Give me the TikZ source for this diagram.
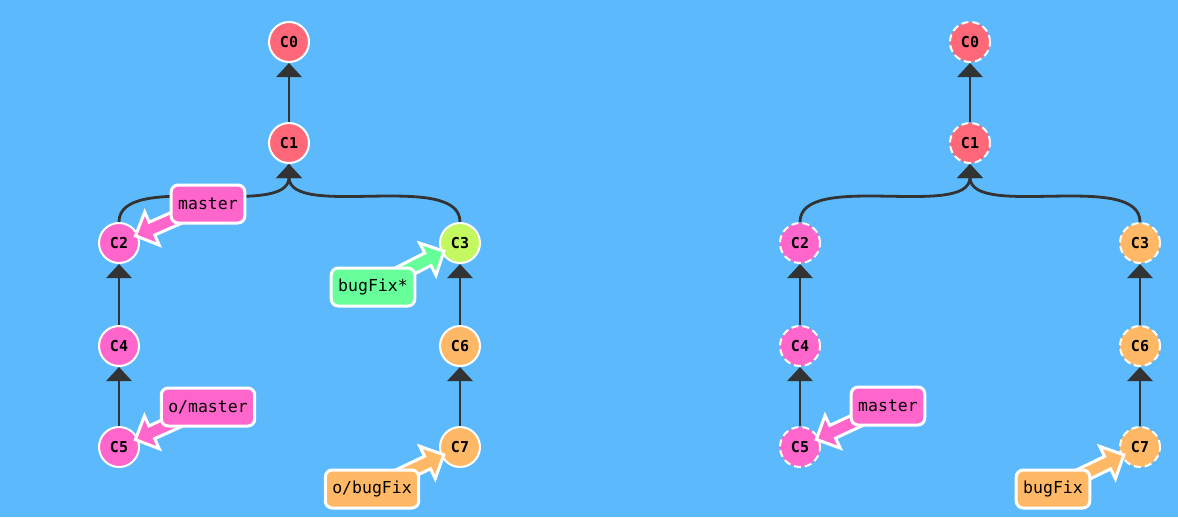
\documentclass[tikz,border=0pt]{standalone}
\usepackage{fontspec}
\setmonofont{DejaVu Sans Mono}
\usetikzlibrary{calc,arrows.meta}

\definecolor{bg}{HTML}{5CBAFC}
\definecolor{edgegray}{HTML}{333333}
\definecolor{cred}{HTML}{FF6878}
\definecolor{cpink}{HTML}{FF66CC}
\definecolor{clime}{HTML}{C4F860}
\definecolor{corange}{HTML}{FFB966}
\definecolor{cgreen}{HTML}{66FF99}

% block arrow from a branch label (#2) to the tip point (#3), filled with #1
\newcommand\fatarrow[3]{%
  \coordinate (fh) at ($(#3)!18pt!(#2)$);
  \filldraw[fatarrow, fill=#1]
    ($(#2)!7pt!90:(#3)$) -- ($(fh)!7pt!-90:(#2)$) -- ($(fh)!18pt!-90:(#2)$)
    -- (#3) -- ($(fh)!18pt!90:(#2)$) -- ($(fh)!7pt!90:(#2)$)
    -- ($(#2)!7pt!-90:(#3)$) -- cycle;
}

\begin{document}
\begin{tikzpicture}[x=1pt,y=-1pt,
  commit/.style={circle, minimum size=40pt, inner sep=0pt, draw=white,
    line width=2pt, text=black, font=\ttfamily\bfseries\fontsize{15}{15}\selectfont},
  ghost/.style={commit, dash pattern=on 7pt off 4pt},
  edge/.style={draw=edgegray, line width=2.8pt,
    -{Triangle[width=25pt,length=14pt]}},
  branch/.style={rounded corners=7pt, draw=white, line width=3pt,
    minimum height=38pt, inner xsep=7pt, text=black,
    font=\ttfamily\fontsize{16.5}{16.5}\selectfont},
  fatarrow/.style={draw=white, line width=3pt, line join=miter}
]
\fill[bg] (0,0) rectangle (1178,517);

% ---------- local repository ----------
\node[commit, fill=cred]    (a0) at (289,42)  {C0};
\node[commit, fill=cred]    (a1) at (289,143) {C1};
\node[commit, fill=cpink]   (a2) at (119,243) {C2};
\node[commit, fill=clime]   (a3) at (460,243) {C3};
\node[commit, fill=cpink]   (a4) at (119,346) {C4};
\node[commit, fill=corange] (a6) at (460,346) {C6};
\node[commit, fill=cpink]   (a5) at (119,447) {C5};
\node[commit, fill=corange] (a7) at (460,447) {C7};

\draw[edge] (a1) -- (a0);
\draw[edge] (a2) .. controls +(0,-73) and +(0,77) .. (a1);
\draw[edge] (a3) .. controls +(0,-73) and +(0,77) .. (a1);
\draw[edge] (a4) -- (a2);
\draw[edge] (a5) -- (a4);
\draw[edge] (a6) -- (a3);
\draw[edge] (a7) -- (a6);

\coordinate (lmaster)  at (208,204);
\coordinate (lomaster) at (208,407);
\coordinate (lbugfix)  at (373,287);
\coordinate (lobugfix) at (372,489);
\coordinate (tmaster)  at ($(a2)!18pt!(lmaster)$);
\coordinate (tomaster) at ($(a5)!18pt!(lomaster)$);
\coordinate (tbugfix)  at ($(a3)!18pt!(lbugfix)$);
\coordinate (tobugfix) at ($(a7)!18pt!(lobugfix)$);

\fatarrow{cpink}{lmaster}{tmaster}
\fatarrow{cpink}{lomaster}{tomaster}
\fatarrow{cgreen}{lbugfix}{tbugfix}
\fatarrow{corange}{lobugfix}{tobugfix}

\node[branch, fill=cpink]   (bmaster)  at (lmaster)  {master};
\node[branch, fill=cpink]   (bomaster) at (lomaster) {o/master};
\node[branch, fill=cgreen]  (bbugfix)  at (lbugfix)  {bugFix*};
\node[branch, fill=corange] (bobugfix) at (lobugfix) {o/bugFix};

% ---------- remote repository ----------
\node[ghost, fill=cred]    (r0) at (970,42)   {C0};
\node[ghost, fill=cred]    (r1) at (970,143)  {C1};
\node[ghost, fill=cpink]   (r2) at (800,243)  {C2};
\node[ghost, fill=corange] (r3) at (1140,243) {C3};
\node[ghost, fill=cpink]   (r4) at (800,346)  {C4};
\node[ghost, fill=corange] (r6) at (1140,346) {C6};
\node[ghost, fill=cpink]   (r5) at (800,447)  {C5};
\node[ghost, fill=corange] (r7) at (1140,447) {C7};

\draw[edge] (r1) -- (r0);
\draw[edge] (r2) .. controls +(0,-73) and +(0,77) .. (r1);
\draw[edge] (r3) .. controls +(0,-73) and +(0,77) .. (r1);
\draw[edge] (r4) -- (r2);
\draw[edge] (r5) -- (r4);
\draw[edge] (r6) -- (r3);
\draw[edge] (r7) -- (r6);

\coordinate (lrmaster) at (888,406);
\coordinate (lrbugfix) at (1053,489);
\coordinate (trmaster) at ($(r5)!18pt!(lrmaster)$);
\coordinate (trbugfix) at ($(r7)!18pt!(lrbugfix)$);

\fatarrow{cpink}{lrmaster}{trmaster}
\fatarrow{corange}{lrbugfix}{trbugfix}

\node[branch, fill=cpink]   (rmaster) at (lrmaster) {master};
\node[branch, fill=corange] (rbugfix) at (lrbugfix) {bugFix};
\end{tikzpicture}
\end{document}
